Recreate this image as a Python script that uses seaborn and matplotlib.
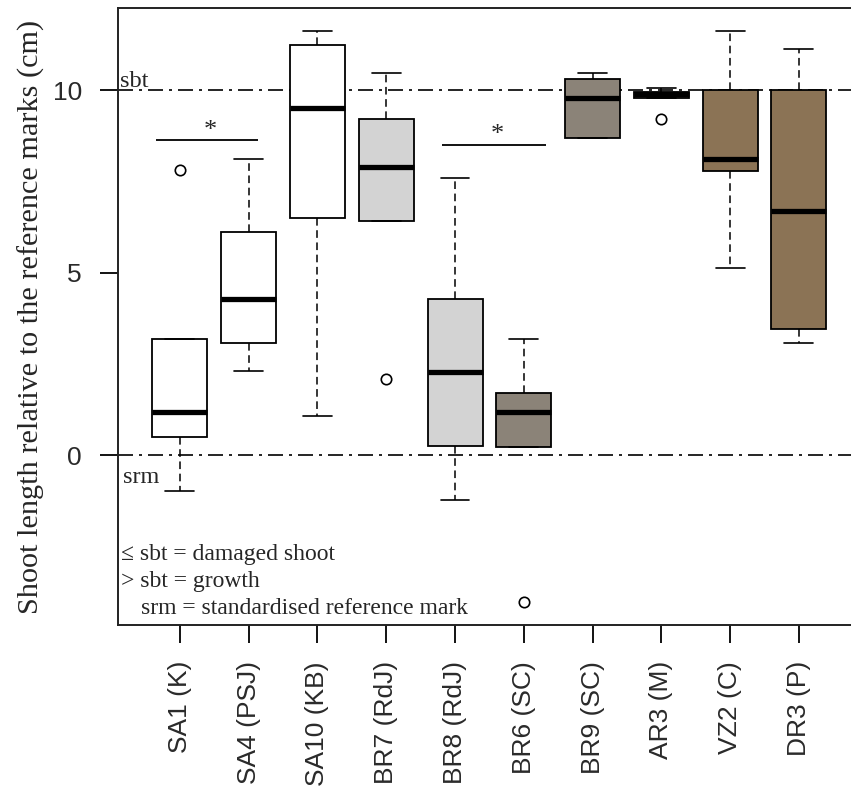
import matplotlib
matplotlib.use("Agg")
import matplotlib.pyplot as plt
import pandas as pd
import seaborn as sns

# Sites (x axis), in plotting order
sites = ["SA1 (K)", "SA4 (PSJ)", "SA10 (KB)", "BR7 (RdJ)", "BR8 (RdJ)",
         "BR6 (SC)", "BR9 (SC)", "AR3 (M)", "VZ2 (C)", "DR3 (P)"]

# Five-number summaries of shoot length (cm) per site
whisker_low = [-0.98, 2.30, 1.08, 6.42, -1.24, 0.22, 8.70, 9.79, 5.12, 3.08]
q1 = [0.51, 3.08, 6.51, 6.42, 0.24, 0.22, 8.70, 9.79, 7.78, 3.46]
median = [1.19, 4.28, 9.50, 7.90, 2.29, 1.19, 9.79, 9.88, 8.10, 6.70]
q3 = [3.18, 6.11, 11.23, 9.20, 4.27, 1.70, 10.29, 9.95, 10.00, 10.00]
whisker_high = [3.18, 8.10, 11.62, 10.48, 7.60, 3.18, 10.47, 10.07, 11.62, 11.12]

# Outlying observations
outlier_sites = ["SA1 (K)", "BR7 (RdJ)", "BR6 (SC)", "AR3 (M)"]
outlier_values = [7.81, 2.09, -4.03, 9.20]

# Box fill per site
box_colors = ["#FFFFFF", "#FFFFFF", "#FFFFFF", "#D3D3D3", "#D3D3D3",
              "#8B8378", "#8B8378", "#8B8378", "#8B7355", "#8B7355"]

# Reference marks: standardised reference mark (0) and shoot base top (10)
reference_levels = [0, 10]

# Significant pairwise differences
sig_pairs = [("SA1 (K)", "SA4 (PSJ)"), ("BR8 (RdJ)", "BR6 (SC)")]
sig_heights = [8.62, 8.50]

ylabel = "Shoot length relative to the reference marks (cm)"

sns.set_theme(style="ticks")
plt.rcParams["font.family"] = ["Liberation Sans", "DejaVu Sans"]
serif = ["Liberation Serif", "DejaVu Serif"]

rows = []
for s, lo, a, m, b, hi in zip(sites, whisker_low, q1, median, q3, whisker_high):
    for v in (lo, a, m, b, hi):
        rows.append((s, v))
df = pd.DataFrame(rows, columns=["site", "length"])

fig = plt.figure(figsize=(8.51, 7.96), dpi=100)
ax = fig.add_axes([118 / 851, 1 - 625 / 796, 742.8 / 851, 616.7 / 796])

sns.boxplot(
    data=df, x="site", y="length", order=sites,
    hue="site", hue_order=sites, palette=box_colors, legend=False,
    saturation=1, whis=(0, 100), width=0.8, showfliers=False,
    linecolor="black", linewidth=1.3, capwidths=0.42,
    medianprops=dict(linewidth=3.8, color="black", solid_capstyle="butt"),
    whiskerprops=dict(linestyle=(0, (5, 3)), linewidth=1.1),
    capprops=dict(linewidth=1.2),
    ax=ax,
)

sns.stripplot(
    x=outlier_sites, y=outlier_values, order=sites, jitter=False,
    color="white", edgecolor="black", linewidth=1.2, size=7.5,
    ax=ax, zorder=5,
)

for level in reference_levels:
    ax.axhline(level, color="black", linewidth=1.2,
               linestyle=(0, (9, 3.6, 1.8, 3.6)), zorder=1.5)

ax.text(-0.87, 10.08, "sbt", family=serif, fontsize=17.5, va="baseline", ha="left")
ax.text(-0.83, -0.76, "srm", family=serif, fontsize=17.5, va="baseline", ha="left")

# Significance bars with asterisks
bar_offsets = [(-0.35, 0.13), (-0.19, 0.33)]
for (a, b), h, (da, db) in zip(sig_pairs, sig_heights, bar_offsets):
    x0 = sites.index(a) + da
    x1 = sites.index(b) + db
    ax.hlines(h, x0, x1, color="black", linewidth=1.3)
    ax.text((x0 + x1) / 2 + 0.05, h - 0.04, "*", family=serif, fontsize=19,
            ha="center", va="bottom")

# Key to the reference marks
key_lines = [("\u2264 sbt = damaged shoot", -0.86, -2.88),
             ("> sbt = growth", -0.86, -3.60),
             ("srm = standardised reference mark", -0.57, -4.34)]
for txt, kx, ky in key_lines:
    ax.text(kx, ky, txt, family=serif, fontsize=17, va="baseline", ha="left")

ax.set_xlim(-0.9, 9.9)
ax.set_ylim(-4.65, 12.24)
ax.set_yticks([0, 5, 10])
ax.set_xlabel("")
ax.set_ylabel(ylabel, family=serif, fontsize=21.8)
ax.yaxis.set_label_coords(-0.098, 0.5)

ax.tick_params(axis="both", direction="out", length=13, width=1.3,
               color="black", labelcolor="#2a2a2a", labelsize=19, pad=13)
ax.tick_params(axis="x", labelrotation=90)
for side in ("left", "top", "bottom"):
    ax.spines[side].set_visible(True)
    ax.spines[side].set_linewidth(1.4)
    ax.spines[side].set_color("#222222")
ax.spines["right"].set_visible(False)

fig.savefig("out.png", dpi=100, facecolor="white")
